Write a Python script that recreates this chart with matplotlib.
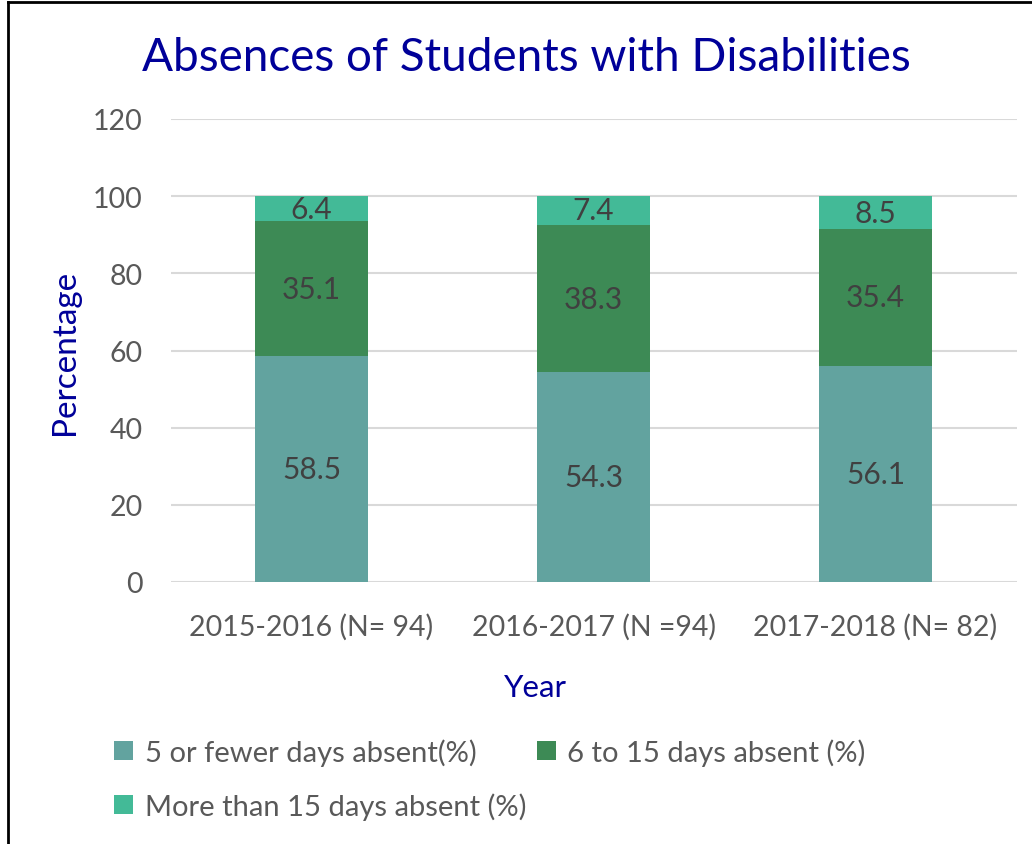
import numpy as np
import matplotlib.pyplot as plt
from matplotlib.lines import Line2D

plt.rcParams['font.family'] = ['Lato', 'DejaVu Sans']

years = ['2015-2016 (N= 94)', '2016-2017 (N =94)', '2017-2018 (N= 82)']
few_days = [58.5, 54.3, 56.1]
mid_days = [35.1, 38.3, 35.4]
many_days = [6.4, 7.4, 8.5]

series = [
    ('5 or fewer days absent(%)', few_days, '#62A39F'),
    ('6 to 15 days absent (%)', mid_days, '#3D8A55'),
    ('More than 15 days absent (%)', many_days, '#43BA97'),
]

fig = plt.figure(figsize=(10.32, 8.45), dpi=100)
ax = fig.add_axes([170.5 / 1032, 1 - 583 / 845, 846 / 1032, 463 / 845])

x = np.arange(len(years))
bottom = np.zeros(len(years))
handles = []
for name, vals, col in series:
    bars = ax.bar(x, vals, 0.4, bottom=bottom, color=col, label=name, zorder=2)
    handles.append(bars)
    for xi, b, v in zip(x, bottom, vals):
        ax.text(xi, b + v / 2, f'{v}', ha='center', va='center',
                fontsize=21.5, color='#404040', zorder=3)
    bottom = bottom + np.array(vals)

ax.set_xlim(-0.5, 2.5)
ax.set_ylim(0, 120)
ax.set_yticks(range(0, 121, 20))
ax.set_xticks(x)
ax.set_xticklabels(years)
ax.yaxis.grid(True, color='#D9D9D9', linewidth=1.5, zorder=0)
for s in ax.spines.values():
    s.set_visible(False)
ax.tick_params(length=0, labelsize=20.5, labelcolor='#595959')
ax.tick_params(axis='y', pad=20)
ax.tick_params(axis='x', pad=22)

fig.text(526 / 1032, 1 - 58 / 845, 'Absences of Students with Disabilities',
         ha='center', va='center', fontsize=33, color='#000099')
fig.text(65 / 1032, 1 - 352 / 845, 'Percentage', rotation=90, ha='center',
         va='center', fontsize=24, color='#000099')
fig.text(535 / 1032, 1 - 688 / 845, 'Year', ha='center', va='center',
         fontsize=22.5, color='#000099')

# fill rows left to right: matplotlib fills the legend column by column
order = [0, 2, 1]
fig.legend([handles[i] for i in order], [series[i][0] for i in order],
           loc='upper left', bbox_to_anchor=(88 / 1032, 1 - 713 / 845), ncol=2,
           frameon=False, fontsize=21, labelcolor='#595959', handlelength=0.65,
           handleheight=0.65, handletextpad=0.4, columnspacing=0.35,
           labelspacing=0.9)

fig.add_artist(Line2D([8 / 1032, 8 / 1032], [0, 1 - 3 / 845], color='black',
                      linewidth=2, transform=fig.transFigure))
fig.add_artist(Line2D([8 / 1032, 1], [1 - 3 / 845, 1 - 3 / 845], color='black',
                      linewidth=2, transform=fig.transFigure))

fig.savefig('out.png', dpi=100)
